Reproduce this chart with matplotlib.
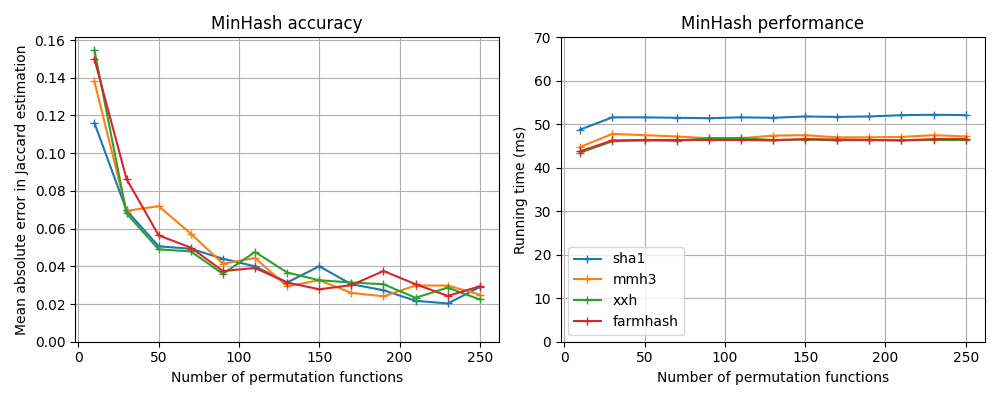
import matplotlib

matplotlib.use("Agg")
import matplotlib.pyplot as plt

num_perm = [10, 30, 50, 70, 90, 110, 130, 150, 170, 190, 210, 230, 250]
hash_names = ["sha1", "mmh3", "xxh", "farmhash"]

# mean absolute error in Jaccard estimation
err_sha1 = [0.116, 0.0696, 0.0506, 0.0493, 0.044, 0.040, 0.0314, 0.040, 0.0305, 0.0273, 0.0217, 0.0203, 0.029]
err_mmh3 = [0.138, 0.0694, 0.0719, 0.0573, 0.0414, 0.0444, 0.0294, 0.0326, 0.0259, 0.0241, 0.0298, 0.0298, 0.025]
err_xxh = [0.1547, 0.068, 0.049, 0.0479, 0.036, 0.0476, 0.0367, 0.0326, 0.0314, 0.0305, 0.0233, 0.0287, 0.0224]
err_farmhash = [0.150, 0.0863, 0.0564, 0.0499, 0.0375, 0.0391, 0.0314, 0.0278, 0.030, 0.0375, 0.0305, 0.0243, 0.0294]

# running time (ms)
time_sha1 = [48.8, 51.6, 51.6, 51.5, 51.4, 51.6, 51.5, 51.8, 51.7, 51.8, 52.1, 52.2, 52.1]
time_mmh3 = [44.8, 47.8, 47.5, 47.2, 46.8, 46.8, 47.4, 47.5, 47.0, 47.0, 47.1, 47.5, 47.2]
time_xxh = [43.5, 46.1, 46.3, 46.2, 46.8, 46.8, 46.4, 46.5, 46.3, 46.4, 46.3, 46.4, 46.4]
time_farmhash = [43.8, 46.3, 46.4, 46.4, 46.4, 46.4, 46.3, 46.6, 46.5, 46.4, 46.3, 46.6, 46.6]

errors = [err_sha1, err_mmh3, err_xxh, err_farmhash]
times = [time_sha1, time_mmh3, time_xxh, time_farmhash]

fig, (ax1, ax2) = plt.subplots(1, 2, figsize=(10, 4), dpi=100)

for name, err in zip(hash_names, errors):
    ax1.plot(num_perm, err, "-+", label=name)
ax1.set_title("MinHash accuracy")
ax1.set_xlabel("Number of permutation functions")
ax1.set_ylabel("Mean absolute error in Jaccard estimation")
ax1.set_ylim(0, None)
ax1.grid()

for name, t in zip(hash_names, times):
    ax2.plot(num_perm, t, "-+", label=name)
ax2.set_title("MinHash performance")
ax2.set_xlabel("Number of permutation functions")
ax2.set_ylabel("Running time (ms)")
ax2.set_ylim(0, 70)
ax2.grid()
ax2.legend(loc="lower left")

fig.tight_layout()
fig.savefig("out.png")
